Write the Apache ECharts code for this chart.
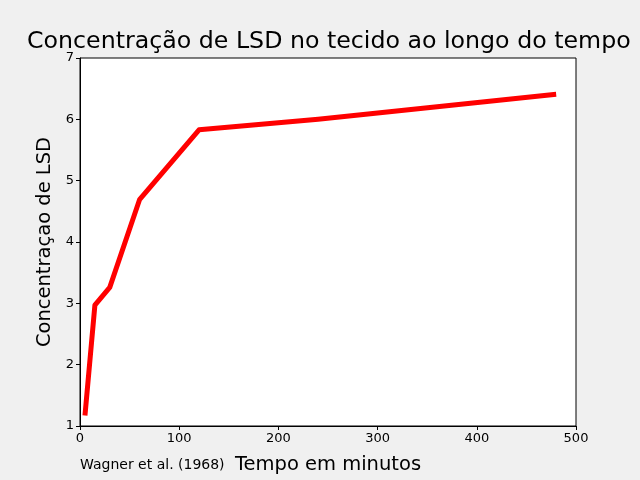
<!DOCTYPE html>
<html><head><meta charset="utf-8">
<script src="https://cdn.jsdelivr.net/npm/echarts@6/dist/echarts.min.js"></script>
<style>html,body{margin:0;padding:0;background:#f0f0f0}#c{width:640px;height:480px}</style>
</head><body><div id="c"></div>
<script>
const tempo = [5, 15, 30, 60, 120, 240, 480];
const concentracao = [1.17, 2.97, 3.26, 4.69, 5.83, 6.00, 6.41];
const titleText = 'Concentração de LSD no tecido ao longo do tempo';
const xName = 'Tempo em minutos';
const yName = 'Concentraçao de LSD';
const sourceText = 'Wagner et al. (1968)';

const font = 'DejaVu Sans';
const chart = echarts.init(document.getElementById('c'), null, {renderer: 'canvas'});
chart.setOption({
  backgroundColor: '#f0f0f0',
  animation: false,
  textStyle: {fontFamily: font},
  title: {text: titleText, left: 27, top: 30, padding: 0,
    textStyle: {fontFamily: font, fontSize: 23.7, fontWeight: 'normal', color: '#000'}},
  grid: {left: 80, right: 64, top: 58, bottom: 53, show: true, backgroundColor: '#fff', borderColor: '#000', borderWidth: 1},
  xAxis: {type: 'value', min: 0, max: 500, interval: 100,
    name: xName, nameLocation: 'middle', nameGap: 29,
    nameTextStyle: {fontFamily: font, fontSize: 19.5, color: '#000'},
    axisLine: {show: true, onZero: false, lineStyle: {color: '#000'}},
    axisTick: {show: true, inside: false, length: 4, lineStyle: {color: '#000'}},
    axisLabel: {fontFamily: font, fontSize: 13, color: '#000', margin: 6},
    splitLine: {show: false}},
  yAxis: {type: 'value', min: 1, max: 7, interval: 1,
    name: yName, nameLocation: 'middle', nameGap: 25,
    nameTextStyle: {fontFamily: font, fontSize: 19.5, color: '#000'},
    axisLine: {show: true, onZero: false, lineStyle: {color: '#000'}},
    axisTick: {show: true, inside: false, length: 4, lineStyle: {color: '#000'}},
    axisLabel: {fontFamily: font, fontSize: 13, color: '#000', margin: 6},
    splitLine: {show: false}},
  graphic: [{type: 'text', left: 80, top: 458,
    style: {text: sourceText, font: '14px "DejaVu Sans"', fill: '#000'}}],
  series: [{type: 'line', data: tempo.map((t, i) => [t, concentracao[i]]),
    showSymbol: false, symbol: 'none',
    lineStyle: {color: '#ff0000', width: 5, cap: 'butt', join: 'round'}}]
});
</script></body></html>
